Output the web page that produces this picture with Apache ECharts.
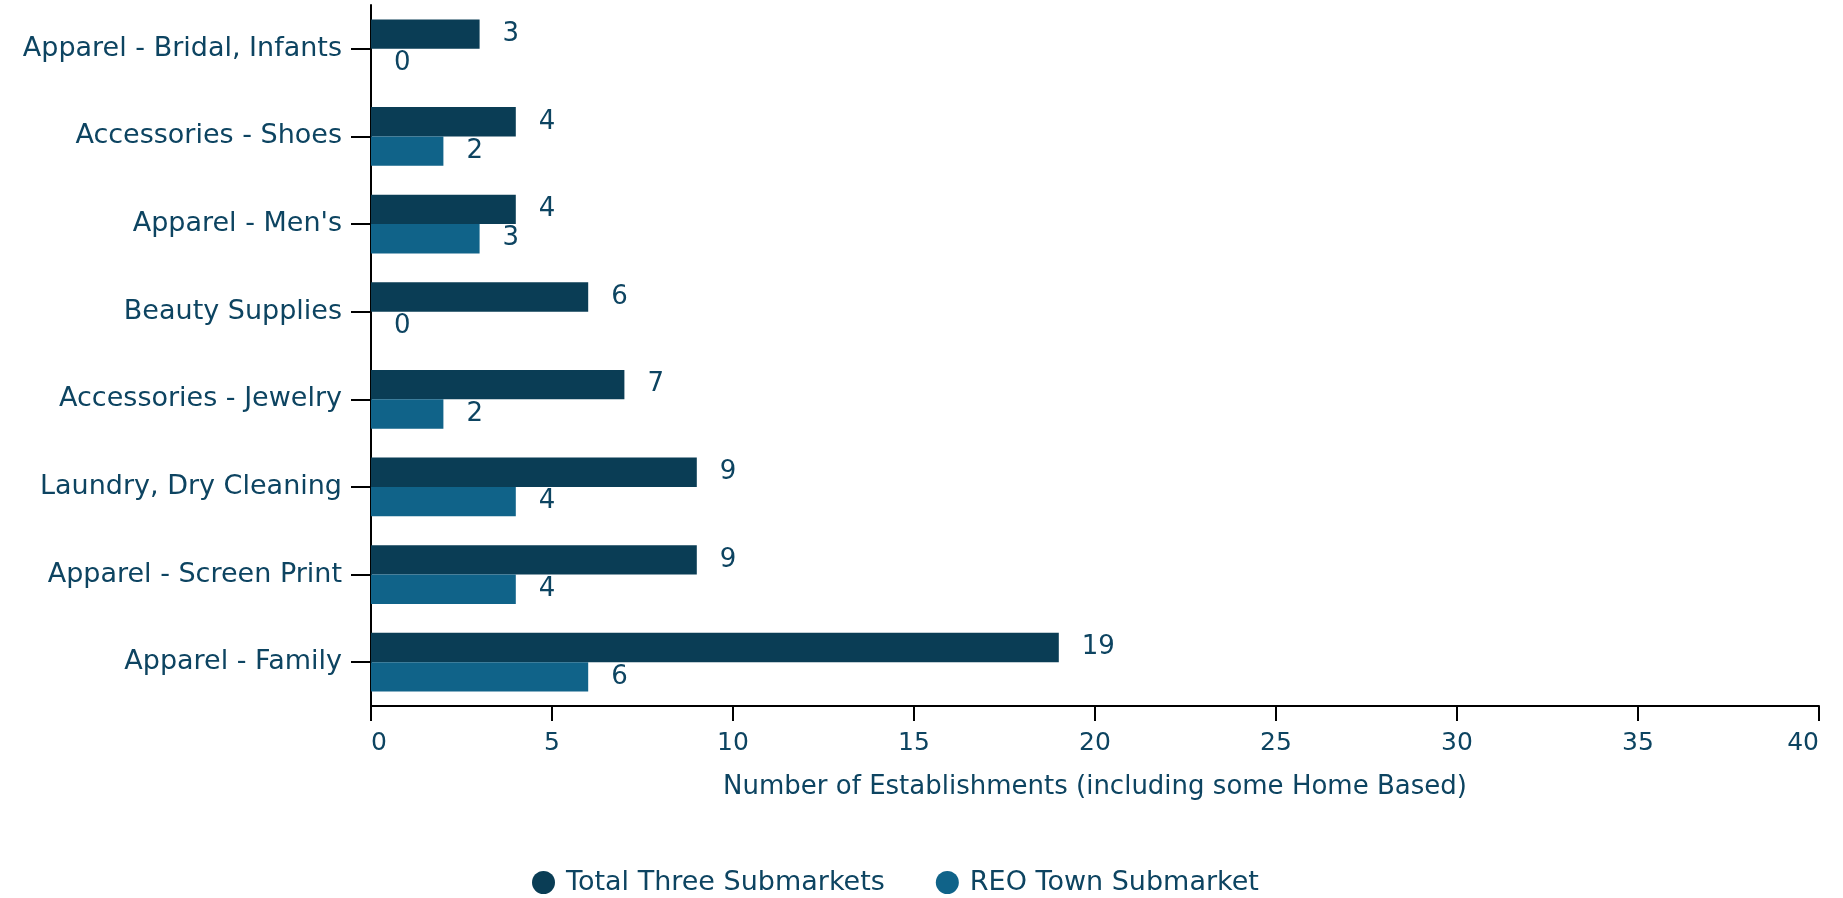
<!DOCTYPE html>
<html>
<head>
<meta charset="utf-8">
<script src="https://cdn.jsdelivr.net/npm/echarts@6/dist/echarts.min.js"></script>
<style>
html, body { margin: 0; padding: 0; background: #fff; }
#chart { width: 1843px; height: 898px; }
</style>
</head>
<body>
<div id="chart"></div>
<script>
"use strict";
const categories = ["Apparel - Bridal, Infants", "Accessories - Shoes", "Apparel - Men's", "Beauty Supplies",
    "Accessories - Jewelry", "Laundry, Dry Cleaning", "Apparel - Screen Print", "Apparel - Family"];
const totalThree = [3, 4, 4, 6, 7, 9, 9, 19];
const reoTown = [0, 2, 3, 0, 2, 4, 4, 6];
const seriesNames = ["Total Three Submarkets", "REO Town Submarket"];

(() => {
    const font = "'DejaVu Sans', sans-serif";
    const textColor = "#0d4461";
    let chart = echarts.init(document.getElementById('chart'));
    let option = {
        animation: false,
        color: ['#0a3d55', '#106389'],
        textStyle: { fontFamily: font, color: textColor },
        grid: { left: 371, right: 24, top: 5, bottom: 192 },
        legend: {
            left: 527,
            top: 864,
            icon: 'circle',
            itemWidth: 23,
            itemHeight: 23,
            itemGap: 51,
            textStyle: { fontFamily: font, fontSize: 27, color: textColor, padding: [0, 0, 0, 6] },
            data: seriesNames
        },
        xAxis: {
            type: 'value',
            min: 0,
            max: 40,
            interval: 5,
            name: 'Number of Establishments (including some Home Based)',
            nameLocation: 'middle',
            nameGap: 68,
            nameTextStyle: { fontFamily: font, fontSize: 26, color: textColor },
            splitLine: { show: false },
            axisLine: { show: true, lineStyle: { color: '#000', width: 2 } },
            axisTick: { show: true, length: 15, lineStyle: { color: '#000', width: 2 } },
            axisLabel: {
                fontFamily: font, fontSize: 25, color: textColor, margin: 25,
                alignMinLabel: 'left', alignMaxLabel: 'right'
            }
        },
        yAxis: {
            type: 'category',
            inverse: true,
            data: categories,
            axisLine: { show: true, lineStyle: { color: '#000', width: 2 } },
            axisTick: { show: true, length: 20, alignWithLabel: true, lineStyle: { color: '#000', width: 2 } },
            axisLabel: { fontFamily: font, fontSize: 27, color: textColor, margin: 29 }
        },
        series: [
            {
                name: seriesNames[0],
                type: 'bar',
                data: totalThree,
                barGap: 0,
                barCategoryGap: '33%',
                label: { show: true, position: 'right', distance: 23, fontFamily: font, fontSize: 26, color: textColor }
            },
            {
                name: seriesNames[1],
                type: 'bar',
                data: reoTown,
                barGap: 0,
                barCategoryGap: '33%',
                label: { show: true, position: 'right', distance: 23, fontFamily: font, fontSize: 26, color: textColor }
            }
        ]
    };
    chart.setOption(option);
})();
</script>
</body>
</html>
